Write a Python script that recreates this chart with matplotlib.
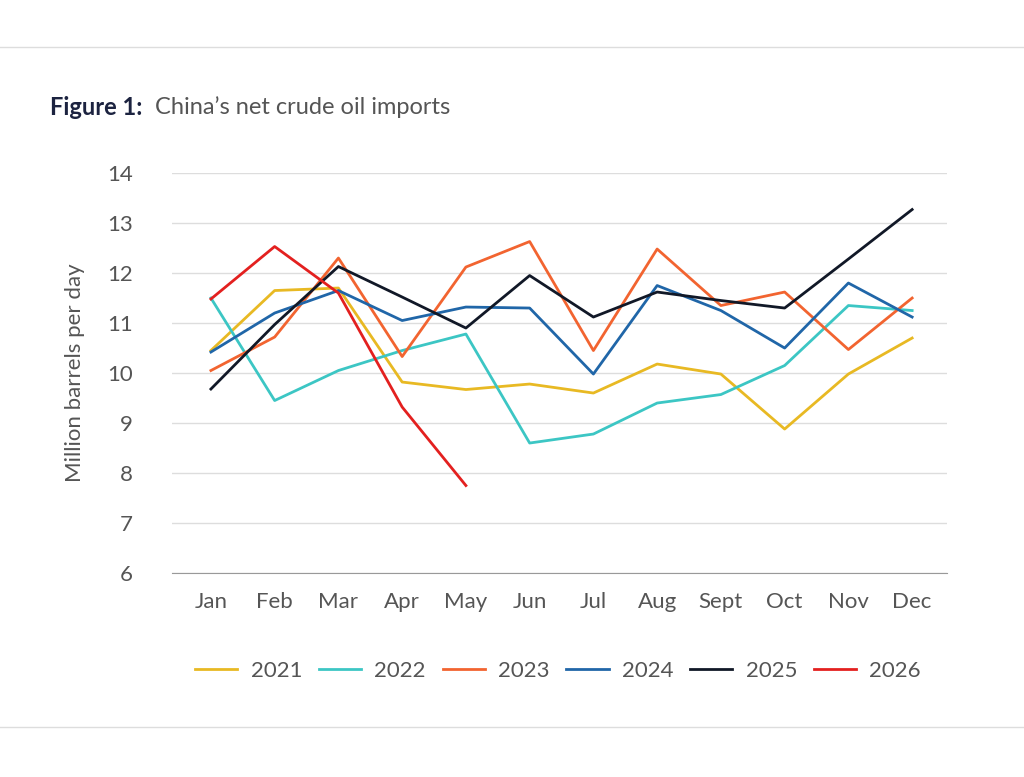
import matplotlib
matplotlib.use('Agg')
import matplotlib.pyplot as plt
from matplotlib.lines import Line2D

plt.rcParams['font.family'] = ['Lato', 'DejaVu Sans']

months = ['Jan', 'Feb', 'Mar', 'Apr', 'May', 'Jun', 'Jul', 'Aug', 'Sept', 'Oct', 'Nov', 'Dec']
y2021 = [10.45, 11.65, 11.7, 9.82, 9.67, 9.78, 9.6, 10.18, 9.98, 8.88, 9.98, 10.7]
y2022 = [11.5, 9.45, 10.05, 10.45, 10.78, 8.6, 8.78, 9.4, 9.57, 10.15, 11.35, 11.25]
y2023 = [10.05, 10.72, 12.3, 10.33, 12.12, 12.63, 10.45, 12.48, 11.35, 11.62, 10.47, 11.5]
y2024 = [10.42, 11.2, 11.65, 11.05, 11.32, 11.3, 9.98, 11.75, 11.25, 10.5, 11.8, 11.12]
y2025 = [9.68, 10.97, 12.13, 11.52, 10.9, 11.95, 11.12, 11.62, 11.45, 11.3, 12.28, 13.27]
y2026 = [11.48, 12.53, 11.6, 9.32, 7.75]

series = [('2021', y2021, '#e8b923'), ('2022', y2022, '#3cc6c4'),
          ('2023', y2023, '#f26430'), ('2024', y2024, '#2066a8'),
          ('2025', y2025, '#111827'), ('2026', y2026, '#e3201f')]

fig = plt.figure(figsize=(10.24, 7.77), dpi=100)
ax = fig.add_axes([0.168, 0.2625, 0.757, 0.5148])
for name, vals, col in series:
    ax.plot(range(len(vals)), vals, color=col, lw=2, label=name)

ax.set_ylim(6, 14)
ax.set_xlim(-0.61, 11.55)
ax.set_yticks(range(6, 15))
ax.set_xticks(range(12))
ax.set_xticklabels(months)
ax.grid(axis='y', color='#dddddd', lw=1)
ax.set_axisbelow(True)
for s in ['top', 'right', 'left']:
    ax.spines[s].set_visible(False)
ax.spines['bottom'].set_color('#999999')
ax.tick_params(length=0, labelsize=16, colors='#555555', pad=14)
ax.tick_params(axis='y', pad=28)
ax.set_ylabel('Million barrels per day', fontsize=16, color='#555555', labelpad=16)

handles = [Line2D([], [], color=c, lw=2) for _, _, c in series]
fig.legend(handles, [n for n, _, _ in series], loc='center', bbox_to_anchor=(0.545, 0.137),
           ncol=6, frameon=False, fontsize=16, labelcolor='#555555',
           handlelength=1.9, columnspacing=0.75, handletextpad=0.6)

fig.text(0.049, 0.862, 'Figure 1:', fontsize=17, fontweight='bold', color='#1c2340', va='center')
fig.text(0.151, 0.862, 'China\u2019s net crude oil imports', fontsize=17, color='#555555', va='center')

fig.add_artist(Line2D([0, 1], [1 - 47 / 777] * 2, color='#dddddd', lw=1))
fig.add_artist(Line2D([0, 1], [1 - 727 / 777] * 2, color='#dddddd', lw=1))

fig.savefig('out.png', dpi=100)
